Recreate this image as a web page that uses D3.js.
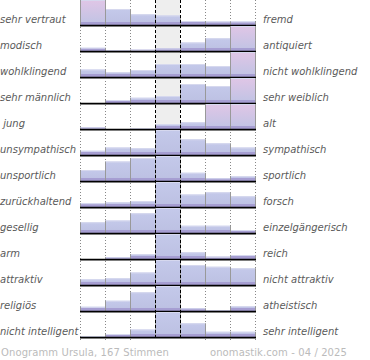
<!DOCTYPE html>
<html><head><meta charset="utf-8">
<script src="https://cdn.jsdelivr.net/npm/d3@7"></script>
<style>body{margin:0;background:#fff}svg{display:block}text{white-space:pre}</style>
</head><body>
<script>
const leftLabels = ["sehr vertraut","modisch","wohlklingend","sehr männlich"," jung","unsympathisch","unsportlich","zurückhaltend","gesellig","arm","attraktiv","religiös","nicht intelligent"];
const rightLabels = ["fremd","antiquiert","nicht wohlklingend","sehr weiblich","alt","sympathisch","sportlich","forsch","einzelgängerisch","reich","nicht attraktiv","atheistisch","sehr intelligent"];
// share of votes per column (1 = full row height, >1 = clipped)
const values = [
  [1.3,0.64,0.43,0.38,0.16,0.14,0.14],
  [0.13,0.02,0.05,0.10,0.34,0.51,1.3],
  [0.30,0.20,0.28,0.52,0.52,0.44,1.3],
  [0.00,0.12,0.21,0.28,0.76,0.68,1.3],
  [0.06,0.00,0.01,0.20,0.27,1.3,1.3],
  [0.17,0.30,0.27,1.0,0.63,0.47,0.30],
  [0.44,0.78,0.92,1.0,0.33,0.11,0.20],
  [0.15,0.19,0.24,1.0,0.50,0.59,0.43],
  [0.43,0.50,0.79,1.0,0.29,0.29,0.12],
  [0.00,0.07,0.20,1.0,0.27,0.09,0.16],
  [0.23,0.27,0.50,1.0,0.80,0.73,0.67],
  [0.17,0.41,0.75,1.0,0.11,0.02,0.20],
  [0.04,0.12,0.30,1.0,0.55,0.21,0.21]
];
const columns = [0,1,2,3,4,5,6];
const footerLeft = "Onogramm Ursula, 167 Stimmen";
const footerRight = "onomastik.com - 04 / 2025";

const W = 370, H = 360;
const svg = d3.select("body").append("svg").attr("width", W).attr("height", H);
const defs = svg.append("defs");
const gBlue = defs.append("linearGradient").attr("id","gBlue").attr("x1",0).attr("y1",0).attr("x2",0).attr("y2",1);
gBlue.append("stop").attr("offset",0).attr("stop-color","#c4c9ea");
gBlue.append("stop").attr("offset",1).attr("stop-color","#bcc0e2");
const gPink = defs.append("linearGradient").attr("id","gPink").attr("x1",0).attr("y1",0).attr("x2",0).attr("y2",1);
gPink.append("stop").attr("offset",0).attr("stop-color","#e0c6e6");
gPink.append("stop").attr("offset",1).attr("stop-color","#bfc3e4");

const x = d3.scaleBand().domain(columns).range([80,255]).paddingInner(0).paddingOuter(0);
const rows = d3.scaleBand().domain(d3.range(leftLabels.length)).range([0,338]);
const plotBottom = 340;

// center background
svg.append("rect").attr("x", x(3)).attr("y", 0).attr("width", x.bandwidth()).attr("height", 338).attr("fill","#eeeeee");

// dotted grid lines
const gridX = [x(0), x(1), x(2), x(5), x(6), x(6)+x.bandwidth()];
svg.selectAll("line.grid").data(gridX).enter().append("line")
  .attr("x1", d=>d+0.5).attr("x2", d=>d+0.5).attr("y1",0).attr("y2",plotBottom)
  .attr("stroke","#888").attr("stroke-dasharray","1,2");

const rowG = svg.selectAll("g.row").data(values).enter().append("g");
rowG.each(function(vals, i){
  const g = d3.select(this);
  const base = rows(i) + 25;
  const y = d3.scaleLinear().domain([0,1]).range([base, base-25]).clamp(true);
  vals.forEach((v, j) => {
    if (v <= 0) return;
    const x0 = x(j), w = x.bandwidth(), top = y(v), h = base - top;
    g.append("rect").attr("x", x0).attr("y", top).attr("width", w).attr("height", h)
      .attr("fill", v > 1 ? "url(#gPink)" : "url(#gBlue)");
    g.append("rect").attr("x", x0).attr("y", base - Math.min(3,h)).attr("width", w).attr("height", Math.min(3,h))
      .attr("fill", "#a69ed2");
    g.append("line").attr("x1", x0).attr("x2", x0+w).attr("y1", top+0.5).attr("y2", top+0.5)
      .attr("stroke","#d6d8ee").attr("stroke-width",1);
  });
  // side edges between bars
  for (let j = 0; j <= 7; j++) {
    const l = j > 0 ? Math.max(0, Math.min(vals[j-1],1)) : 0;
    const r = j < 7 ? Math.max(0, Math.min(vals[j],1)) : 0;
    const m = Math.max(l, r);
    if (m <= 0) continue;
    const xe = j < 7 ? x(j) : x(6) + x.bandwidth();
    g.append("line").attr("x1", xe+0.5).attr("x2", xe+0.5).attr("y1", y(m)).attr("y2", base)
      .attr("stroke","#999").attr("stroke-width",1);
  }
  g.append("line").attr("x1",80).attr("x2",256).attr("y1",base+1.5).attr("y2",base+1.5).attr("stroke","#aaa").attr("stroke-width",1);
  g.append("line").attr("x1",80).attr("x2",256).attr("y1",base+0.5).attr("y2",base+0.5).attr("stroke","#000").attr("stroke-width",1.5);
  g.append("text").attr("x",0).attr("y",base-2).text(leftLabels[i])
    .attr("font-family","DejaVu Sans").attr("font-size",10).attr("font-style","italic").attr("fill","#5a5a5a");
  g.append("text").attr("x",263).attr("y",base-2).text(rightLabels[i])
    .attr("font-family","DejaVu Sans").attr("font-size",10).attr("font-style","italic").attr("fill","#5a5a5a");
});

// center dashed lines
svg.selectAll("line.center").data([x(3), x(4)]).enter().append("line")
  .attr("x1", d=>d+0.5).attr("x2", d=>d+0.5).attr("y1",0).attr("y2",plotBottom)
  .attr("stroke","#000").attr("stroke-dasharray","3,2");

svg.append("text").attr("x",1).attr("y",356).text(footerLeft)
  .attr("font-family","DejaVu Sans").attr("font-size",10).attr("letter-spacing",0.1).attr("fill","#bbb");
svg.append("text").attr("x",347).attr("y",356).attr("text-anchor","end").text(footerRight)
  .attr("font-family","DejaVu Sans").attr("font-size",10).attr("letter-spacing",0.1).attr("fill","#bbb");
</script>
</body></html>
